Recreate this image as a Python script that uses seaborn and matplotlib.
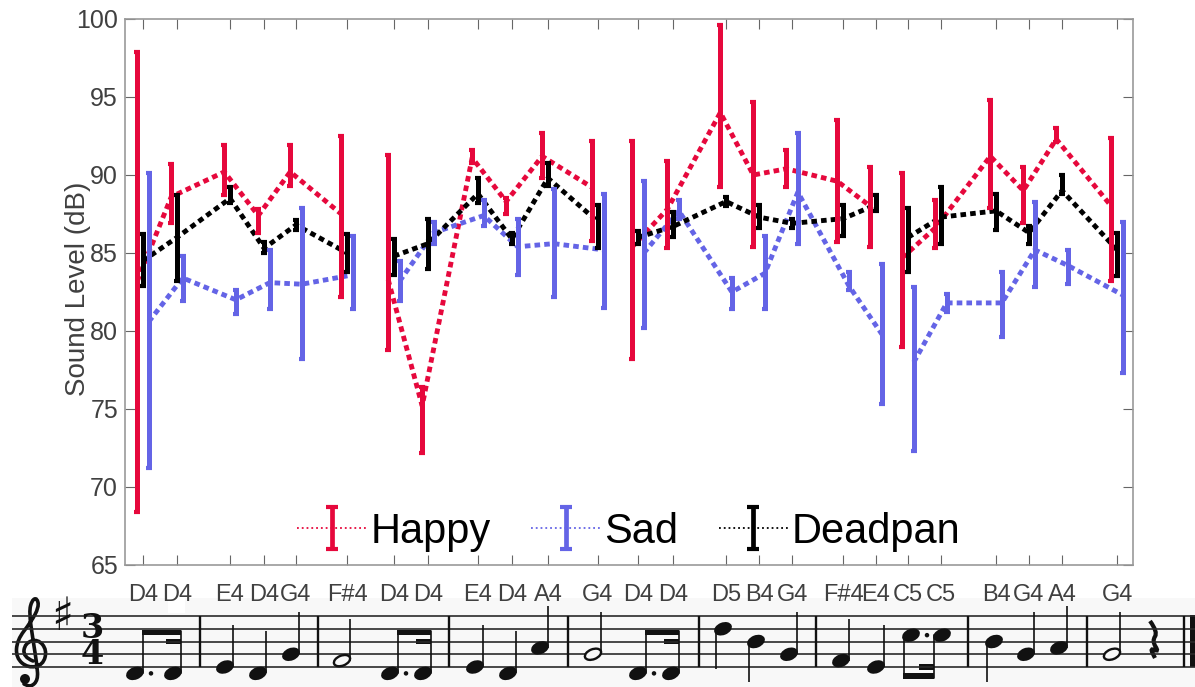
import pandas as pd
import numpy as np
import matplotlib
matplotlib.use("Agg")
import matplotlib.pyplot as plt
import seaborn as sns
from matplotlib.legend_handler import HandlerErrorbar
from matplotlib.container import ErrorbarContainer
from matplotlib.patches import Ellipse, Rectangle, PathPatch
from matplotlib.path import Path

# note names and onset times (in beat-ish units along the x axis)
notes = ["D4", "D4", "E4", "D4", "G4", "F#4", "D4", "D4", "E4", "D4", "A4", "G4",
         "D4", "D4", "D5", "B4", "G4", "F#4", "E4", "C5", "C5", "B4", "G4", "A4", "G4"]
note_times = [0.53, 1.53, 3.09, 4.09, 5.03, 6.53, 7.91, 8.91, 10.38, 11.38, 12.44, 13.91,
              15.09, 16.12, 17.68, 18.65, 19.62, 21.12, 22.09, 23.03, 24.0, 25.62, 26.59, 27.56, 29.18]
phrases = [1] * 6 + [2] * 6 + [3] * 7 + [4] * 6

happy_mean = [83.2, 88.6, 90.2, 87.4, 90.2, 87.5, 83.3, 75.2, 91.1, 88.3, 91.2, 89.2,
              85.4, 87.8, 94.0, 90.0, 90.4, 89.6, 88.0, 84.7, 86.6, 91.2, 89.0, 92.3, 88.0]
happy_low = [68.4, 86.9, 88.7, 86.3, 89.3, 82.2, 78.8, 72.2, 90.8, 87.5, 89.8, 85.8,
             78.2, 85.3, 89.2, 85.4, 89.2, 85.7, 85.4, 79.0, 85.3, 87.9, 86.9, 92.1, 83.2]
happy_high = [97.9, 90.7, 91.9, 87.8, 91.9, 92.5, 91.3, 76.4, 91.6, 88.5, 92.7, 92.2,
              92.2, 90.9, 99.6, 94.7, 91.6, 93.5, 90.5, 90.1, 88.4, 94.8, 90.5, 93.0, 92.4]

sad_mean = [80.6, 83.4, 82.0, 83.1, 83.0, 83.6, 83.2, 86.3, 87.4, 85.4, 85.6, 85.2,
            85.0, 87.7, 82.5, 83.7, 88.9, 82.9, 79.8, 78.0, 81.8, 81.8, 85.2, 84.2, 82.3]
sad_low = [71.2, 81.9, 81.1, 81.4, 78.2, 81.4, 81.9, 85.6, 86.7, 83.6, 82.2, 81.5,
           80.2, 87.2, 81.4, 81.4, 85.6, 82.6, 75.3, 72.3, 81.2, 79.6, 82.8, 83.0, 77.3]
sad_high = [90.1, 84.8, 82.6, 85.2, 87.9, 86.1, 84.5, 87.0, 88.4, 87.2, 89.1, 88.8,
            89.6, 88.4, 83.4, 86.1, 92.7, 83.8, 84.3, 82.8, 82.4, 83.8, 88.3, 85.2, 87.0]

deadpan_mean = [84.5, 86.0, 88.5, 85.3, 86.8, 85.0, 84.8, 85.6, 88.8, 85.9, 89.8, 87.0,
                86.0, 86.7, 88.3, 87.3, 86.9, 87.2, 88.1, 86.0, 87.3, 87.7, 86.3, 89.0, 85.2]
deadpan_low = [82.9, 83.2, 88.2, 85.0, 86.5, 83.8, 83.6, 84.0, 88.2, 85.6, 89.3, 85.3,
               85.6, 86.0, 88.0, 86.6, 86.6, 86.1, 87.7, 83.8, 85.6, 86.5, 85.6, 88.8, 83.5]
deadpan_high = [86.2, 88.7, 89.2, 85.7, 87.1, 86.2, 85.9, 87.2, 89.8, 86.3, 90.8, 88.1,
                86.4, 87.6, 88.6, 88.1, 87.2, 88.1, 88.7, 87.9, 89.2, 88.8, 86.7, 90.0, 86.3]

emotions = ["Happy", "Sad", "Deadpan"]
colors = {"Happy": "#E6083C", "Sad": "#6464E6", "Deadpan": "#000000"}
offsets = {"Happy": -0.17, "Sad": 0.17, "Deadpan": 0.0}
means = {"Happy": happy_mean, "Sad": sad_mean, "Deadpan": deadpan_mean}
lows = {"Happy": happy_low, "Sad": sad_low, "Deadpan": deadpan_low}
highs = {"Happy": happy_high, "Sad": sad_high, "Deadpan": deadpan_high}

frames = []
for emo in emotions:
    frames.append(pd.DataFrame({
        "time": np.array(note_times) + offsets[emo],
        "level": means[emo],
        "low": lows[emo],
        "high": highs[emo],
        "phrase": phrases,
        "emotion": emo,
    }))
df = pd.concat(frames, ignore_index=True)

sns.set_style("white")
plt.rcParams["font.family"] = ["Liberation Sans", "DejaVu Sans"]

W, H = 1195, 687
fig = plt.figure(figsize=(W / 100, H / 100), dpi=100)

# score strip sits behind everything, drawn in pixel units
score = fig.add_axes([0, 0, 1, 1])
score.set_xlim(0, W)
score.set_ylim(H, 0)
score.axis("off")

ax = fig.add_axes([125 / W, 1 - 565 / H, 1008 / W, 546 / H])
dots = (0, (1.15, 0.85))

sns.lineplot(data=df, x="time", y="level", hue="emotion", units="phrase", estimator=None,
             palette=colors, hue_order=emotions, linewidth=3.5, linestyle=dots,
             legend=False, ax=ax)

for emo in emotions:
    d = df[df["emotion"] == emo]
    ax.errorbar(d["time"], d["level"], yerr=[d["level"] - d["low"], d["high"] - d["level"]],
                fmt="none", ecolor=colors[emo], elinewidth=3.6, capsize=2.4, capthick=3)

handles = []
for emo in emotions:
    line = ax.plot([], [], ls=":", lw=1.3, color=colors[emo])[0]
    h = ax.errorbar([0], [0], yerr=[0], fmt="none", ecolor=colors[emo], elinewidth=3.4,
                    capsize=4, capthick=3)
    handles.append(ErrorbarContainer((line, h.lines[1], h.lines[2]), has_yerr=True, label=emo))

ax.legend(handles=handles, handler_map={ErrorbarContainer: HandlerErrorbar(xerr_size=0.5, yerr_size=0.5, numpoints=1)},
          ncols=3, loc="lower center", bbox_to_anchor=(0.5, 0.013), frameon=False, fontsize=30,
          handlelength=1.65, handletextpad=0.1, columnspacing=0.98, borderaxespad=0.0, borderpad=0.15,
          labelspacing=0, labelcolor="black")

ax.set_xlim(0, 1008 / 34)
ax.set_ylim(65, 100)
ax.set_xticks(note_times)
ax.set_xticklabels(notes)
ax.set_yticks(range(65, 101, 5))
ax.set_xlabel("")
ax.set_ylabel("Sound Level (dB)", fontsize=20, color="#404040")
ax.yaxis.set_label_coords(-0.0335, 0.505)
ax.tick_params(axis="x", direction="in", top=True, bottom=True, length=7, width=0.8, color="#666666",
               labelsize=17, labelcolor="#404040", pad=14)
ax.tick_params(axis="y", direction="in", left=True, right=True, length=7, width=0.8, color="#666666",
               labelsize=18, labelcolor="#404040", pad=5)
for s in ax.spines.values():
    s.set_color("#999999")
    s.set_linewidth(1.2)

# --- music staff ---
head_x = [135, 173, 225, 258, 291, 342, 390, 423, 475, 508, 540, 593,
          638, 671, 723, 756, 789, 841, 876, 911, 942, 994, 1026, 1059, 1112]
steps = {"D4": -1, "E4": 0, "F#4": 1, "G4": 2, "A4": 3, "B4": 4, "C5": 5, "D5": 6}
half_notes = [5, 11, 24]
beam_up = [(0, 1), (6, 7), (12, 13)]
beam_down = [(19, 20)]
bar_x = [200, 318, 449, 568, 699, 816, 968, 1087, 1184]
line_y = [616, 628.7, 641.5, 654.2, 667]
bg = "#f8f8f8"

score.add_patch(Rectangle((12, 598), W - 12, H - 598, fc=bg, ec="none"))
score.add_patch(Rectangle((168, 598), 17, 15, fc="white", ec="none"))
for y in line_y:
    score.plot([12, W], [y, y], color="#2a2a2a", lw=1.2, solid_capstyle="butt")
for x in bar_x:
    score.plot([x, x], [line_y[0], line_y[-1]], color="#111111", lw=1.7, solid_capstyle="butt")
score.add_patch(Rectangle((1190, line_y[0] - 1), 5, 52, fc="#111111", ec="none"))


def note_y(name):
    return line_y[-1] - steps[name] * 6.37


beamed = [i for pair in beam_up + beam_down for i in pair]
for i, name in enumerate(notes):
    x, y = head_x[i], note_y(name)
    up = steps[name] < 4
    if i in half_notes:
        score.add_patch(Ellipse((x, y), 17, 10, angle=-22, fc=bg, ec="#111111", lw=1.7, zorder=4))
    else:
        score.add_patch(Ellipse((x, y), 18.5, 12.5, angle=-22, fc="#111111", ec="none", zorder=4))
    if i in beamed:
        continue
    sx = x + 8 if up else x - 7
    ey = y - 42 if up else y + 40
    score.plot([sx, sx], [y, ey], color="#111111", lw=1.2, solid_capstyle="butt")

for a, b in beam_up:
    xa, xb = head_x[a] + 8, head_x[b] + 8
    score.plot([xa, xa], [note_y(notes[a]), 631], color="#111111", lw=1.2)
    score.plot([xb, xb], [note_y(notes[b]), 631], color="#111111", lw=1.2)
    score.add_patch(Rectangle((xa - 0.5, 630), xb - xa + 1, 5, fc="#111111", ec="none"))
    score.add_patch(Rectangle((xb - 15, 639), 15.5, 5, fc="#111111", ec="none"))
    score.add_patch(Ellipse((head_x[a] + 16, note_y(notes[a])), 4.5, 4.5, fc="#111111", ec="none"))

for a, b in beam_down:
    xa, xb = head_x[a] - 7, head_x[b] - 8
    score.plot([xa, xa], [note_y(notes[a]), 678], color="#111111", lw=1.2)
    score.plot([xb, xb], [note_y(notes[b]), 678], color="#111111", lw=1.2)
    score.add_patch(Rectangle((xa - 0.5, 673), xb - xa + 1, 6, fc="#111111", ec="none"))
    score.add_patch(Rectangle((xb - 15, 664), 15.5, 5.5, fc="#111111", ec="none"))
    score.add_patch(Ellipse((head_x[a] + 16, note_y(notes[a])), 4.5, 4.5, fc="#111111", ec="none"))


def spline(points):
    # quadratic curve through the midpoints of the control polygon
    verts = [points[0]]
    codes = [Path.MOVETO]
    for p, q in zip(points[1:-1], points[2:]):
        verts += [p, ((p[0] + q[0]) / 2, (p[1] + q[1]) / 2)]
        codes += [Path.CURVE3, Path.CURVE3]
    verts.append(points[-1])
    codes.append(Path.LINETO)
    return Path(verts, codes)


clef = [(33, 661), (23, 657), (25, 643), (38, 639), (47, 650), (43, 665), (28, 668),
        (16, 658), (17, 640), (31, 622), (39, 607), (37, 598), (32, 600), (29, 612),
        (33, 640), (37, 665), (38, 680), (31, 687), (24, 684)]
score.add_patch(PathPatch(spline(clef), fc="none", ec="#111111", lw=2.6, capstyle="round"))
score.add_patch(Ellipse((25, 679), 10, 10, fc="#111111", ec="none"))

rest = [(1150, 621), (1158, 632), (1152, 641), (1159, 652), (1150, 648), (1155, 658)]
score.add_patch(PathPatch(spline(rest), fc="none", ec="#111111", lw=3))

score.text(62, 618, "\u266f", fontsize=33, family="DejaVu Sans", ha="center", va="center", color="#111111")
score.text(92, 628, "3", fontsize=24, family="DejaVu Serif", weight="bold", ha="center", va="center", color="#111111")
score.text(92, 654, "4", fontsize=24, family="DejaVu Serif", weight="bold", ha="center", va="center", color="#111111")

fig.savefig("out.png", dpi=100)
